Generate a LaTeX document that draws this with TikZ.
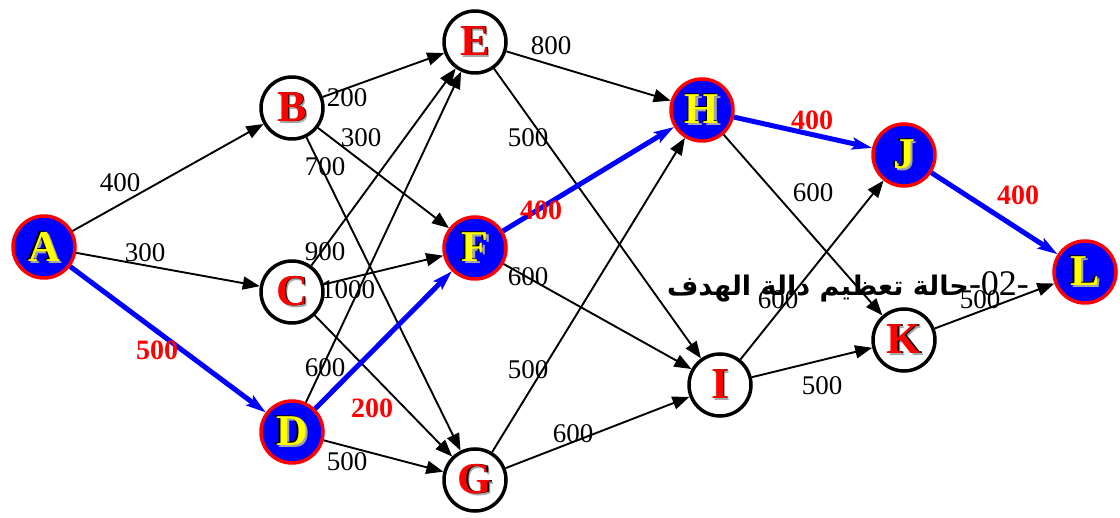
\documentclass[tikz,border=0pt]{standalone}
\usepackage{fontspec}
\setmainfont{Liberation Serif}
\newfontfamily\arabicfont[Script=Arabic]{DejaVu Sans}
\TeXXeTstate=1
\usepackage{xcolor}
\usetikzlibrary{arrows.meta}
\definecolor{hotblue}{RGB}{0,0,255}
\definecolor{hotred}{RGB}{255,0,0}
\definecolor{hotyellow}{RGB}{255,255,0}
% stacked letters with shadow
\newcommand\ltrW[1]{\makebox[0pt]{\hspace{5pt}\raisebox{-2pt}{\color{gray!70}#1}}\makebox[0pt]{\hspace{2.6pt}#1}\makebox[0pt]{\color{hotred}#1}}
\newcommand\ltrB[1]{\makebox[0pt]{\hspace{5pt}\raisebox{-2pt}{\color{gray!70}#1}}\makebox[0pt]{\raisebox{1pt}{#1}\hspace{3.5pt}}\makebox[0pt]{\color{hotyellow}#1}}

\begin{document}
\begin{tikzpicture}[x=1pt,y=-1pt,
  vtx/.style={circle,draw=black,line width=3.5pt,fill=white,minimum size=62pt,inner sep=0pt,
    font=\fontsize{44}{46}\selectfont\bfseries},
  hot/.style={vtx,draw=hotred,fill=hotblue},
  edge/.style={line width=1.9pt,-{Triangle[length=17pt,width=13pt]}},
  best/.style={line width=5pt,draw=hotblue,-{Stealth[length=20pt,width=12pt,inset=4pt]}},
  cost/.style={font=\fontsize{27}{29}\selectfont},
  gain/.style={font=\fontsize{28}{30}\selectfont\bfseries,text=hotred}]
\useasboundingbox (0,0) rectangle (1120,518);
% caption behind the graph
\node (cap) at (848,287) {\arabicfont\fontsize{27}{30}\selectfont\bfseries\beginR\beginL{\rmfamily\mdseries\fontsize{36}{37}\selectfont-02-}\endL{}حالة تعظيم دالة الهدف\endR};
% vertices
\foreach \n/\x/\y in {B/292/108,C/292/292,E/475/42,G/475/480,I/720/385,K/904/340}
  \node[vtx] (\n) at (\x,\y) {\ltrW{\n}};
\foreach \n/\x/\y in {A/44/247,D/292/432,F/475/248,H/702/110,J/904/155,L/1085/272}
  \node[hot] (\n) at (\x,\y) {\ltrB{\n}};
% arcs
\foreach \s/\t in {A/B,A/C,B/E,B/F,B/G,C/E,C/F,C/G,D/E,D/G,E/H,E/I,F/I,G/H,G/I,H/K,I/J,I/K,K/L}
  \draw[edge] (\s) -- (\t);
\foreach \s/\t in {A/D,D/F,F/H,H/J,J/L}
  \draw[best] (\s) -- (\t);
% arc values
\foreach \i/\x/\y/\v in {1/120/183/400,2/145/253/300,3/347/98/200,4/361/138/300,5/325/167/700,
  6/325/252/900,7/348/290/1000,8/325/368/600,9/347/462/500,10/551/46/800,11/528/138/500,
  12/528/277/600,13/528/370/500,14/573/434/600,15/813/193/600,16/778/300/600,17/822/386/500,
  18/980/300/500}
  \node[cost] (c\i) at (\x,\y) {\v};
\foreach \i/\x/\y/\v in {1/157/350/500,2/372/408/200,3/541/210/400,4/812/120/400,5/1018/195/400}
  \node[gain] (g\i) at (\x,\y) {\v};
\end{tikzpicture}
\end{document}
